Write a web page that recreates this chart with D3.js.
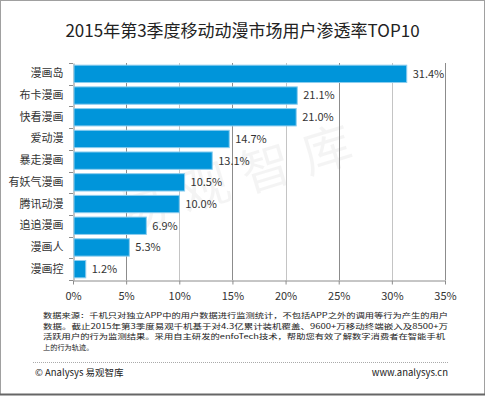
<!DOCTYPE html>
<html>
<head>
<meta charset="utf-8">
<script src="https://cdn.jsdelivr.net/npm/d3@7"></script>
<style>
  body { margin: 0; background: #fff; }
  svg { display: block; font-family: "Noto Sans CJK SC", "Noto Sans", sans-serif; }
</style>
</head>
<body>
<div id="chart"></div>
<script>
// Data
const apps = ["漫画岛", "布卡漫画", "快看漫画", "爱动漫", "暴走漫画", "有妖气漫画", "腾讯动漫", "追追漫画", "漫画人", "漫画控"];
const rates = [31.4, 21.1, 21.0, 14.7, 13.1, 10.5, 10.0, 6.9, 5.3, 1.2];
const xTicks = [0, 5, 10, 15, 20, 25, 30, 35];

const title = "2015年第3季度移动动漫市场用户渗透率TOP10";
const noteLines = [
  "数据来源：千机只对独立APP中的用户数据进行监测统计，不包括APP之外的调用等行为产生的用户",
  "数据。截止2015年第3季度易观千机基于对4.3亿累计装机覆盖、9600+万移动终端嵌入及8500+万",
  "活跃用户的行为监测结果。采用自主研发的enfoTech技术，帮助您有效了解数字消费者在智能手机",
  "上的行为轨迹。"
];

const width = 485, height = 396;
const margin = { top: 63, left: 73, right: 40, bottom: 116 };

const svg = d3.select("#chart").append("svg")
  .attr("width", width)
  .attr("height", height);

// frame
svg.append("rect")
  .attr("x", 0.5).attr("y", 0.5)
  .attr("width", width - 1).attr("height", height - 2)
  .attr("fill", "#fff")
  .attr("stroke", "#a0a0a0");
svg.append("line")
  .attr("x1", 0).attr("x2", width)
  .attr("y1", height - 1.5).attr("y2", height - 1.5)
  .attr("stroke", "#666").attr("stroke-width", 2);

// title
svg.append("text")
  .attr("x", width / 2)
  .attr("y", 37)
  .attr("text-anchor", "middle")
  .attr("font-size", 17)
  .attr("fill", "#222")
  .text(title);

const x = d3.scaleLinear()
  .domain([0, 35])
  .range([margin.left, width - margin.right]);

const y = d3.scaleBand()
  .domain(apps)
  .range([margin.top, height - margin.bottom])
  .paddingInner(0.2)
  .paddingOuter(0.1);

// watermark
svg.append("text")
  .attr("transform", "translate(243,180) rotate(-17)")
  .attr("text-anchor", "middle")
  .attr("dominant-baseline", "middle")
  .attr("font-size", 50)
  .attr("letter-spacing", 14)
  .attr("fill", "#000")
  .attr("fill-opacity", 0.045)
  .text("易观智库");

// vertical gridlines
svg.append("g")
  .selectAll("line")
  .data(xTicks.slice(1))
  .join("line")
  .attr("x1", d => Math.round(x(d)) + 0.5)
  .attr("x2", d => Math.round(x(d)) + 0.5)
  .attr("y1", margin.top)
  .attr("y2", height - margin.bottom)
  .attr("stroke", (d, i) => i % 2 ? "#c4c4c4" : "#8c8c8c");

// x axis
const xAxis = svg.append("g")
  .attr("transform", `translate(0,${height - margin.bottom + 0.5})`)
  .call(d3.axisBottom(x).tickValues(xTicks).tickSize(4).tickSizeOuter(0).tickFormat(d => d + "%"));
xAxis.select(".domain").attr("stroke", "#8c8c8c");
xAxis.selectAll(".tick line").attr("stroke", "#8c8c8c");
xAxis.selectAll("text")
  .attr("font-size", 11)
  .attr("fill", "#333")
  .attr("dy", "1.1em")
  .style("font-family", "'Noto Sans CJK SC', sans-serif");

// y axis with ticks between categories
const yAxis = svg.append("g")
  .attr("transform", `translate(${margin.left + 0.5},0)`)
  .call(d3.axisLeft(y).tickSize(0).tickPadding(10));
yAxis.select(".domain").attr("stroke", "#8c8c8c");
yAxis.selectAll("text")
  .attr("font-size", 11)
  .attr("fill", "#333")
  .style("font-family", "'Noto Sans CJK SC', sans-serif");
svg.append("g")
  .selectAll("line")
  .data(d3.range(apps.length + 1))
  .join("line")
  .attr("x1", margin.left - 4)
  .attr("x2", margin.left)
  .attr("y1", i => Math.round(margin.top + i * (height - margin.bottom - margin.top) / apps.length) + 0.5)
  .attr("y2", i => Math.round(margin.top + i * (height - margin.bottom - margin.top) / apps.length) + 0.5)
  .attr("stroke", "#8c8c8c");

// bars
svg.append("g")
  .selectAll("rect")
  .data(apps)
  .join("rect")
  .attr("x", x(0) + 1)
  .attr("y", d => y(d))
  .attr("width", (d, i) => x(rates[i]) - x(0) - 1)
  .attr("height", y.bandwidth())
  .attr("fill", "#0095da")
  .attr("stroke", "#8ccdee")
  .attr("stroke-width", 1);

// value labels
svg.append("g")
  .selectAll("text")
  .data(apps)
  .join("text")
  .attr("x", (d, i) => x(rates[i]) + 6)
  .attr("y", d => y(d) + y.bandwidth() / 2)
  .attr("dy", "0.35em")
  .attr("font-size", 11)
  .attr("fill", "#333")
  .text((d, i) => rates[i].toFixed(1) + "%");

// footnote
const noteWidths = [405, 405, 402, null];
svg.append("g")
  .selectAll("text")
  .data(noteLines)
  .join("text")
  .attr("x", 43)
  .attr("y", (d, i) => 318 + i * 10.5)
  .attr("font-size", 7.2)
  .attr("fill", "#222")
  .each(function (d, i) {
    if (noteWidths[i]) d3.select(this).attr("textLength", noteWidths[i]).attr("lengthAdjust", "spacingAndGlyphs");
  })
  .text(d => d);

svg.append("line")
  .attr("x1", 33).attr("x2", 448)
  .attr("y1", 362.5).attr("y2", 362.5)
  .attr("stroke", "#aaa")
  .attr("stroke-dasharray", "1,1");

svg.append("text")
  .attr("x", 35).attr("y", 376)
  .attr("font-size", 9.5)
  .attr("fill", "#222")
  .text("© Analysys 易观智库");

svg.append("text")
  .attr("x", 448).attr("y", 376)
  .attr("text-anchor", "end")
  .attr("font-size", 9.5)
  .attr("fill", "#222")
  .text("www.analysys.cn");
</script>
</body>
</html>
